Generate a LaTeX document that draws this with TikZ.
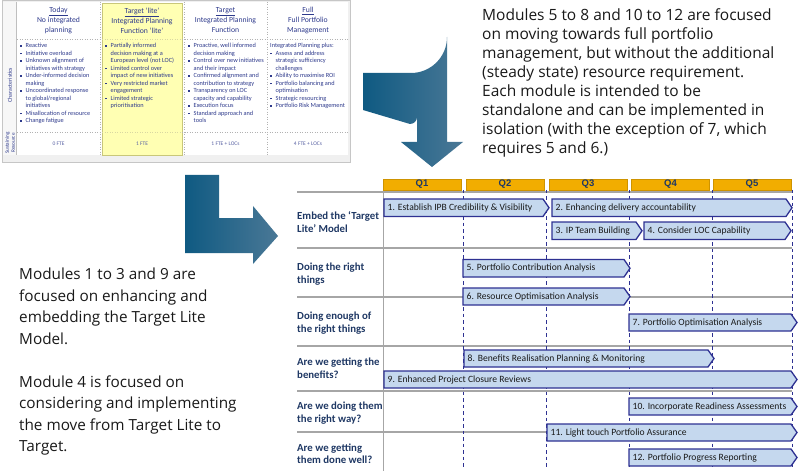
\documentclass[tikz,border=0pt]{standalone}
\usepackage{fontspec}
\setmainfont{Carlito}
\newfontfamily\opensans{Open Sans}
\newfontfamily\arialf{Liberation Sans}
\definecolor{tnavy}{HTML}{2E3A8C}
\definecolor{rnavy}{HTML}{1F3864}
\definecolor{bborder}{HTML}{2E3192}
\definecolor{bfill}{HTML}{C5D8EE}
\definecolor{qorange}{HTML}{F2AD00}
\definecolor{sepgray}{HTML}{A6A6A6}
\definecolor{yel}{HTML}{FFFFB3}
\definecolor{yelb}{HTML}{C9C77A}
\definecolor{arrdark}{HTML}{0F5A82}
\definecolor{arrlight}{HTML}{4A7896}
\newcommand\bul{\raisebox{0.3ex}{\rule{0.5ex}{0.5ex}}}
\newcommand\bl{\makebox[5.5pt][l]{\bul}}
\newcommand\ct{\hspace*{5.5pt}}
\newcommand\gbar[6]{%
  \draw[barstyle] (#2,#4) -- ({#3-6},#4) -- (#3,{(#4+#5)/2}) -- ({#3-6},#5) -- (#2,#5) -- cycle;
  \node[bartext] (#1) at ({#2+2.5},{(#4+#5)/2}) {#6};}
\tikzset{
  barstyle/.style={draw=bborder, fill=bfill, line width=1.3pt, line join=miter},
  bartext/.style={anchor=west, inner sep=1pt, font=\fontsize{9.6}{12}\selectfont, text=black!90},
  rowlab/.style={anchor=west, align=left, inner sep=0pt, font=\bfseries\fontsize{10.8}{12.5}\selectfont, text=rnavy},
  qbox/.style={fill=qorange, draw=qorange!85!black, line width=0.4pt, minimum width=78pt, minimum height=11pt, inner sep=0pt, font=\arialf\bfseries\fontsize{9.5}{10}\selectfont, text=rnavy},
  sepline/.style={draw=sepgray, line width=1.3pt},
  qdash/.style={draw=bborder, line width=1pt, dash pattern=on 3.5pt off 3pt},
  hdr/.style={align=center, inner sep=0pt, font=\fontsize{7.7}{10}\selectfont, text=tnavy},
  bul/.style={anchor=north west, align=left, inner sep=0pt, font=\fontsize{6.3}{7.5}\selectfont, text=tnavy},
  fte/.style={inner sep=0pt, font=\fontsize{5.5}{6.5}\selectfont, text=tnavy!80},
  big/.style={anchor=north west, align=left, inner sep=0pt, font=\opensans\fontsize{15.5}{19}\selectfont, text=black!90},
}
\begin{document}
\begin{tikzpicture}[x=1pt,y=-1pt]
\useasboundingbox (0,0) rectangle (800,473);
% ---------- table ----------
\draw[fill=gray!12, draw=gray!45, line width=0.6pt] (2,0) rectangle (350,162);
\fill[white] (3,2) rectangle (348,155);
\fill[gray!6] (3,2) rectangle (16,155);
\draw[gray!50, line width=0.5pt] (16.5,2) -- (16.5,155);
\fill[yel] (102,3) rectangle (182,155);
\draw[yelb, line width=0.6pt] (102,3) rectangle (182,155);
\draw[gray!60, line width=0.5pt, dotted] (17,39) -- (102,39) (182,39) -- (348,39);
\draw[gray!60, line width=0.5pt, dotted] (17,132) -- (102,132) (182,132) -- (348,132);
\draw[yelb!70, line width=0.5pt, dotted] (102,39) -- (182,39) (102,132) -- (182,132);
\draw[gray!60, line width=0.5pt, dotted] (100,2) -- (100,155) (267,2) -- (267,155) (184,2) -- (184,155);
\node[rotate=90, inner sep=0pt, font=\fontsize{5.8}{7}\selectfont, text=tnavy] (lchar) at (10,85) {Characteristics};
\node[rotate=90, align=center, inner sep=0pt, font=\fontsize{5.2}{6}\selectfont, text=tnavy] (lsus) at (10,143) {Sustaining\\Resource};
\node[hdr] (h1) at (58.5,20.5) {\underline{Today}\\No integrated\\planning};
\node[hdr] (h2) at (142,20.5) {\underline{Target ‘lite’}\\Integrated Planning\\Function ‘lite’};
\node[hdr] (h3) at (225.5,20.5) {\underline{Target}\\Integrated Planning\\Function};
\node[hdr] (h4) at (308,20.5) {\underline{Full}\\Full Portfolio\\Management};
\node[bul] (c1) at (20,43) {\bl Reactive\\\bl Initiative overload\\\bl Unknown alignment of\\\ct initiatives with strategy\\\bl Under-informed decision\\\ct making\\\bl Uncoordinated response\\\ct to global/regional\\\ct initiatives\\\bl Misallocation of resource\\\bl Change fatigue};
\node[bul] (c2) at (105,43) {\bl Partially informed\\\ct decision making at a\\\ct European level (not LOC)\\\bl Limited control over\\\ct impact of new initiatives\\\bl Very restricted market\\\ct engagement\\\bl Limited strategic\\\ct prioritisation};
\node[bul] (c3) at (188,43) {\bl Proactive, well informed\\\ct decision making\\\bl Control over new initiatives\\\ct and their impact\\\bl Confirmed alignment and\\\ct contribution to strategy\\\bl Transparency on LOC\\\ct capacity and capability\\\bl Execution focus\\\bl Standard approach and\\\ct tools};
\node[bul] (c4) at (270,43) {Integrated Planning plus:\\\bl Assess and address\\\ct strategic sufficiency\\\ct challenges\\\bl Ability to maximise ROI\\\bl Portfolio balancing and\\\ct optimisation\\\bl Strategic resourcing\\\bl Portfolio Risk Management};
\node[fte] (f1) at (58.5,143.5) {0 FTE};
\node[fte] (f2) at (142,143.5) {1 FTE};
\node[fte] (f3) at (225.5,143.5) {1 FTE + LOCs};
\node[fte] (f4) at (308,143.5) {4 FTE + LOCs};
% ---------- arrows ----------
\shade[left color=arrdark, right color=arrlight]
  (363,73) -- (411,73) arc[start angle=90, end angle=0, radius=36] -- (447,142) -- (463,142) -- (432,167) -- (401,142) -- (417,142) -- (417,117) arc[start angle=0, end angle=90, radius=7] -- (363,110) -- cycle;
\shade[left color=arrdark, right color=arrlight]
  (185,175) -- (219,175) -- (219,218) -- (253,218) -- (253,206) -- (278,236) -- (253,264) -- (253,253) -- (185,253) -- cycle;
% ---------- texts ----------
\node[big] (ttop) at (482,8) {Modules 5 to 8 and 10 to 12 are focused\\on moving towards full portfolio\\management, but without the additional\\(steady state) resource requirement.\\Each module is intended to be\\standalone and can be implemented in\\isolation (with the exception of 7, which\\requires 5 and 6.)};
\node[big, font=\opensans\fontsize{15.3}{21.5}\selectfont] (tleft) at (19,268) {Modules 1 to 3 and 9 are\\focused on enhancing and\\embedding the Target Lite\\Model.\\[21.5pt]Module 4 is focused on\\considering and implementing\\the move from Target Lite to\\Target.};
% ---------- gantt grid ----------
\foreach \yy in {192,248,297,346,391,432} \draw[sepline] (297,\yy) -- (792,\yy);
\draw[sepline] (383.5,190) -- (383.5,471);
\foreach \xx in {463,546,629,712,792} \draw[qdash] (\xx,190) -- (\xx,468);
\node[qbox] (q1) at (422,184.5) {Q1};
\node[qbox] (q2) at (505,184.5) {Q2};
\node[qbox] (q3) at (588,184.5) {Q3};
\node[qbox] (q4) at (670.5,184.5) {Q4};
\node[qbox] (q5) at (752,184.5) {Q5};
\node[rowlab] (r1) at (297,222) {Embed the ‘Target\\Lite’ Model};
\node[rowlab] (r2) at (297,274) {Doing the right\\things};
\node[rowlab] (r3) at (297,323) {Doing enough of\\the right things};
\node[rowlab] (r4) at (297,368) {Are we getting the\\benefits?};
\node[rowlab] (r5) at (297,413) {Are we doing them\\the right way?};
\node[rowlab] (r6) at (297,453.5) {Are we getting\\them done well?};
% ---------- bars ----------
\gbar{b1}{384}{549}{199}{216.5}{1. Establish IPB Credibility \& Visibility}
\gbar{b2}{552}{792}{199}{216.5}{2. Enhancing delivery accountability}
\gbar{b3}{552}{642}{222}{239.5}{3. IP Team Building}
\gbar{b4}{644}{791}{222}{239.5}{4. Consider LOC Capability}
\gbar{b5}{463}{630}{259.5}{277}{5. Portfolio Contribution Analysis}
\gbar{b6}{463}{630}{288}{305}{6. Resource Optimisation Analysis}
\gbar{b7}{629}{797}{314}{331}{7. Portfolio Optimisation Analysis}
\gbar{b8}{464}{714}{350}{367}{8. Benefits Realisation Planning \& Monitoring}
\gbar{b9}{384}{797}{371}{388}{9. Enhanced Project Closure Reviews}
\gbar{b10}{629}{797}{398}{415}{10. Incorporate Readiness Assessments}
\gbar{b11}{547}{797}{424}{441}{11. Light touch Portfolio Assurance}
\gbar{b12}{629}{797}{449}{466}{12. Portfolio Progress Reporting}
\end{tikzpicture}
\end{document}
